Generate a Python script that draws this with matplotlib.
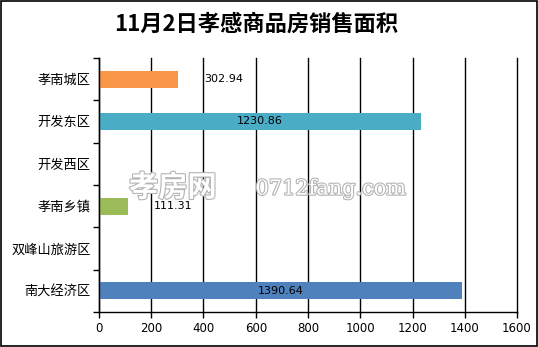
import matplotlib
matplotlib.use("Agg")
import matplotlib.pyplot as plt
import matplotlib.patheffects as pe
from matplotlib.patches import Rectangle

plt.rcParams['font.family'] = ['Noto Sans CJK SC', 'DejaVu Sans']

title = "11月2日孝感商品房销售面积"
categories = ["孝南城区", "开发东区", "开发西区", "孝南乡镇", "双峰山旅游区", "南大经济区"]
values = [302.94, 1230.86, 0, 111.31, 0, 1390.64]
labels = ["302.94", "1230.86", "", "111.31", "", "1390.64"]
colors = ["#F79646", "#4BACC6", "#9BBB59", "#9BBB59", "#4F81BD", "#4F81BD"]
xticks = [0, 200, 400, 600, 800, 1000, 1200, 1400, 1600]

fig = plt.figure(figsize=(5.38, 3.47), dpi=100)
ax = fig.add_axes([0.184, 0.101, 0.777, 0.732])

ypos = list(range(len(categories)))
ax.barh(ypos, values, height=0.4, color=colors, zorder=3)
ax.set_ylim(len(categories) - 0.5, -0.5)
ax.set_xlim(0, 1600)
ax.set_xticks(xticks)
ax.set_xticklabels([str(t) for t in xticks], fontsize=8.5, family='DejaVu Sans')
ax.set_yticks(ypos)
ax.set_yticklabels(categories, fontsize=9.5)
ax.set_yticks([i - 0.5 for i in range(len(categories) + 1)], minor=True)
ax.tick_params(axis='y', which='major', length=0, pad=6)
ax.tick_params(axis='y', which='minor', length=4, width=1, color='black')
ax.tick_params(axis='x', length=4, width=1, color='black', pad=3)
ax.xaxis.grid(True, color='black', linewidth=1, zorder=0)
for gl in ax.get_xgridlines():
    gl.set_clip_on(False)
ax.set_axisbelow(True)
for s in ['top', 'right']:
    ax.spines[s].set_visible(False)
for s in ['left', 'bottom']:
    ax.spines[s].set_linewidth(1)
    ax.spines[s].set_zorder(4)

for y, v, lab in zip(ypos, values, labels):
    if not lab:
        continue
    if v > 800:
        ax.text(v / 2, y, lab, ha='center', va='center', fontsize=8,
                family='DejaVu Sans', zorder=5)
    else:
        ax.text(v + 100, y, lab, ha='left', va='center', fontsize=8,
                family='DejaVu Sans', zorder=5)

fig.text(0.476, 0.93, title, ha='center', va='center', fontsize=16,
         fontweight='bold')

# site watermark
outline = [pe.withStroke(linewidth=1.6, foreground='#b4b4b4')]
fig.text(0.24, 0.46, "孝房网", ha='left', va='center', fontsize=21,
         color='white', path_effects=outline, zorder=6, fontweight='bold')
fig.text(0.475, 0.455, "0712fang.com", ha='left', va='center', fontsize=15,
         color='white', path_effects=outline, zorder=6, family='DejaVu Serif')

fig.patches.append(Rectangle((0.001, 0.002), 0.997, 0.995, transform=fig.transFigure,
                             fill=False, edgecolor='black', linewidth=1.2))

fig.savefig("out.png", dpi=100)
